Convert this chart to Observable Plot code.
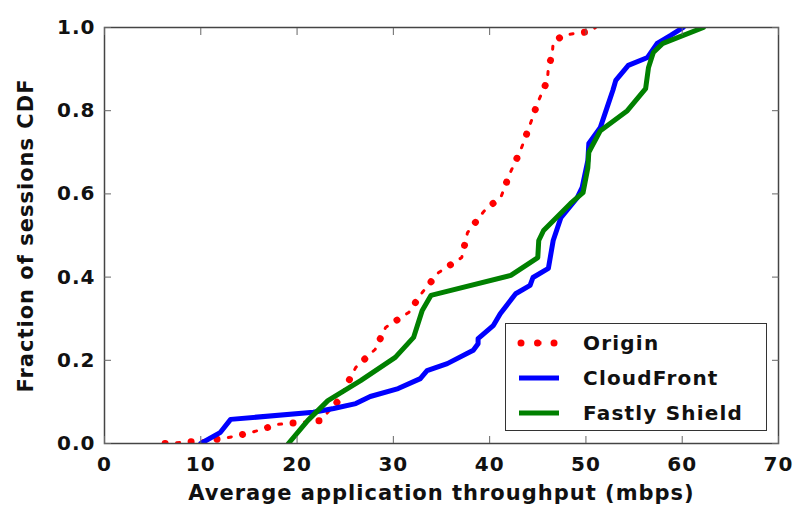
<!DOCTYPE html>
<html>
<head>
<meta charset="utf-8">
<script src="https://cdn.jsdelivr.net/npm/d3@7"></script>
<script src="https://cdn.jsdelivr.net/npm/@observablehq/plot@0.6"></script>
<style>
  html, body { margin: 0; padding: 0; background: #fff; }
  #wrap { position: relative; width: 795px; height: 510px; }
  #legend {
    position: absolute; left: 505px; top: 323px; width: 262px; height: 108px;
    border: 1.5px solid #333; background: #fff; box-sizing: border-box;
    font-family: "DejaVu Sans", sans-serif; font-weight: bold; font-size: 20px; letter-spacing: 1.2px; color: #111;
  }
  .entry { position: absolute; left: 0; height: 30px; display: flex; align-items: center; }
  .entry svg { margin-left: 11px; margin-right: 22px; }
</style>
</head>
<body>
<div id="wrap"><div id="chart"></div><div id="legend"></div></div>
<script>
// ---- data ----
const seriesNames = ["Origin", "CloudFront", "Fastly Shield"];
const seriesColors = ["#ff0000", "#0000ff", "#008000"];

const originX = [6.3, 9.4, 12.4, 15.2, 18.0, 22.4, 24.3, 26.1, 28.1, 29.2, 31.6, 33.0, 34.7, 37.1, 37.7, 39.4, 41.2, 42.1, 43.2, 44.1, 45.0, 46.0, 46.1, 46.5, 46.6, 47.6, 48.9, 50.4, 51.0];
const originY = [0, 0.005, 0.012, 0.026, 0.046, 0.055, 0.103, 0.183, 0.226, 0.279, 0.315, 0.363, 0.411, 0.447, 0.507, 0.558, 0.594, 0.649, 0.704, 0.760, 0.820, 0.873, 0.904, 0.935, 0.964, 0.981, 0.986, 0.990, 1.0];

const cloudX = [10.0, 12.0, 13.1, 21.7, 23.8, 26.1, 27.6, 30.5, 32.8, 33.5, 35.6, 38.3, 38.8, 38.8, 40.4, 41.1, 42.7, 44.2, 44.5, 46.1, 46.6, 47.4, 49.1, 49.6, 50.2, 50.3, 51.5, 52.2, 52.8, 53.1, 54.4, 56.4, 57.4, 58.8, 60.1];
const cloudY = [0, 0.026, 0.058, 0.075, 0.084, 0.096, 0.113, 0.132, 0.156, 0.175, 0.192, 0.224, 0.240, 0.252, 0.284, 0.312, 0.360, 0.380, 0.399, 0.421, 0.488, 0.543, 0.591, 0.615, 0.680, 0.721, 0.760, 0.808, 0.849, 0.873, 0.909, 0.928, 0.962, 0.981, 1.0];

const fastlyX = [19.1, 21.1, 23.2, 26.6, 30.2, 32.1, 33.0, 33.9, 42.2, 45.0, 45.1, 45.6, 48.4, 49.7, 50.2, 50.3, 51.5, 54.3, 56.2, 56.5, 57.0, 58.0, 62.2];
const fastlyY = [0, 0.055, 0.103, 0.151, 0.207, 0.255, 0.320, 0.356, 0.404, 0.447, 0.488, 0.512, 0.577, 0.603, 0.663, 0.700, 0.752, 0.800, 0.853, 0.904, 0.940, 0.962, 1.0];

const xTicks = [0, 10, 20, 30, 40, 50, 60, 70];
const yTicks = [0, 0.2, 0.4, 0.6, 0.8, 1.0];
const xLabel = "Average application throughput (mbps)";
const yLabel = "Fraction of sessions CDF";

const toRows = (xs, ys) => xs.map((x, i) => ({x, y: ys[i]}));
const origin = toRows(originX, originY);
const cloud = toRows(cloudX, cloudY);
const fastly = toRows(fastlyX, fastlyY);

const plot = Plot.plot({
  width: 795,
  height: 510,
  marginLeft: 104,
  marginRight: 17,
  marginTop: 27,
  marginBottom: 67,
  style: {fontFamily: "DejaVu Sans, sans-serif", fontWeight: "bold", fontSize: "20px", letterSpacing: "1px", color: "#111", background: "#fff"},
  x: {domain: [0, 70]},
  y: {domain: [0, 1]},
  marks: [
    Plot.line(origin, {x: "x", y: "y", stroke: seriesColors[0], strokeWidth: 7, strokeLinecap: "round", strokeDasharray: "0.01,26", clip: true}),
    Plot.line(origin, {x: "x", y: "y", stroke: seriesColors[0], strokeWidth: 3, strokeDasharray: "3,23.01", strokeDashoffset: -11.5, clip: true}),
    Plot.line(cloud, {x: "x", y: "y", stroke: seriesColors[1], strokeWidth: 5, clip: true}),
    Plot.line(fastly, {x: "x", y: "y", stroke: seriesColors[2], strokeWidth: 5, clip: true}),
    Plot.frame({stroke: "#444", strokeWidth: 1.5}),
    Plot.axisX(xTicks, {anchor: "bottom", tickSize: -7, tickPadding: 20, stroke: "#666", label: null}),
    Plot.axisX(xTicks, {anchor: "top", tickSize: -7, stroke: "#666", text: null, label: null}),
    Plot.axisY(yTicks, {anchor: "left", tickSize: -7, tickPadding: 16, stroke: "#666", tickFormat: d3.format(".1f"), label: null}),
    Plot.axisY(yTicks, {anchor: "right", tickSize: -7, stroke: "#666", text: null, label: null}),
    Plot.text([xLabel], {frameAnchor: "bottom", dy: 56, text: d => d, fontSize: 21, letterSpacing: "1.6px"}),
    Plot.text([yLabel], {frameAnchor: "left", dx: -78, rotate: -90, textAnchor: "middle", text: d => d, fontSize: 21, letterSpacing: "1.6px"})
  ]
});
document.getElementById("chart").appendChild(plot);

// legend
const legend = document.getElementById("legend");
const entryTops = [4, 39, 74];
seriesNames.forEach((name, i) => {
  const div = document.createElement("div");
  div.className = "entry";
  div.style.top = entryTops[i] + "px";
  let sample;
  if (i === 0) {
    sample = `<svg width="44" height="14"><line x1="4" y1="7" x2="40" y2="7" stroke="${seriesColors[0]}" stroke-width="7" stroke-linecap="round" stroke-dasharray="0.01,16.5"/><line x1="19.5" y1="7" x2="24.5" y2="7" stroke="${seriesColors[0]}" stroke-width="3"/></svg>`;
  } else {
    sample = `<svg width="44" height="14"><line x1="2" y1="7" x2="42" y2="7" stroke="${seriesColors[i]}" stroke-width="5"/></svg>`;
  }
  div.innerHTML = sample + `<span>${name}</span>`;
  legend.appendChild(div);
});
</script>
</body>
</html>
